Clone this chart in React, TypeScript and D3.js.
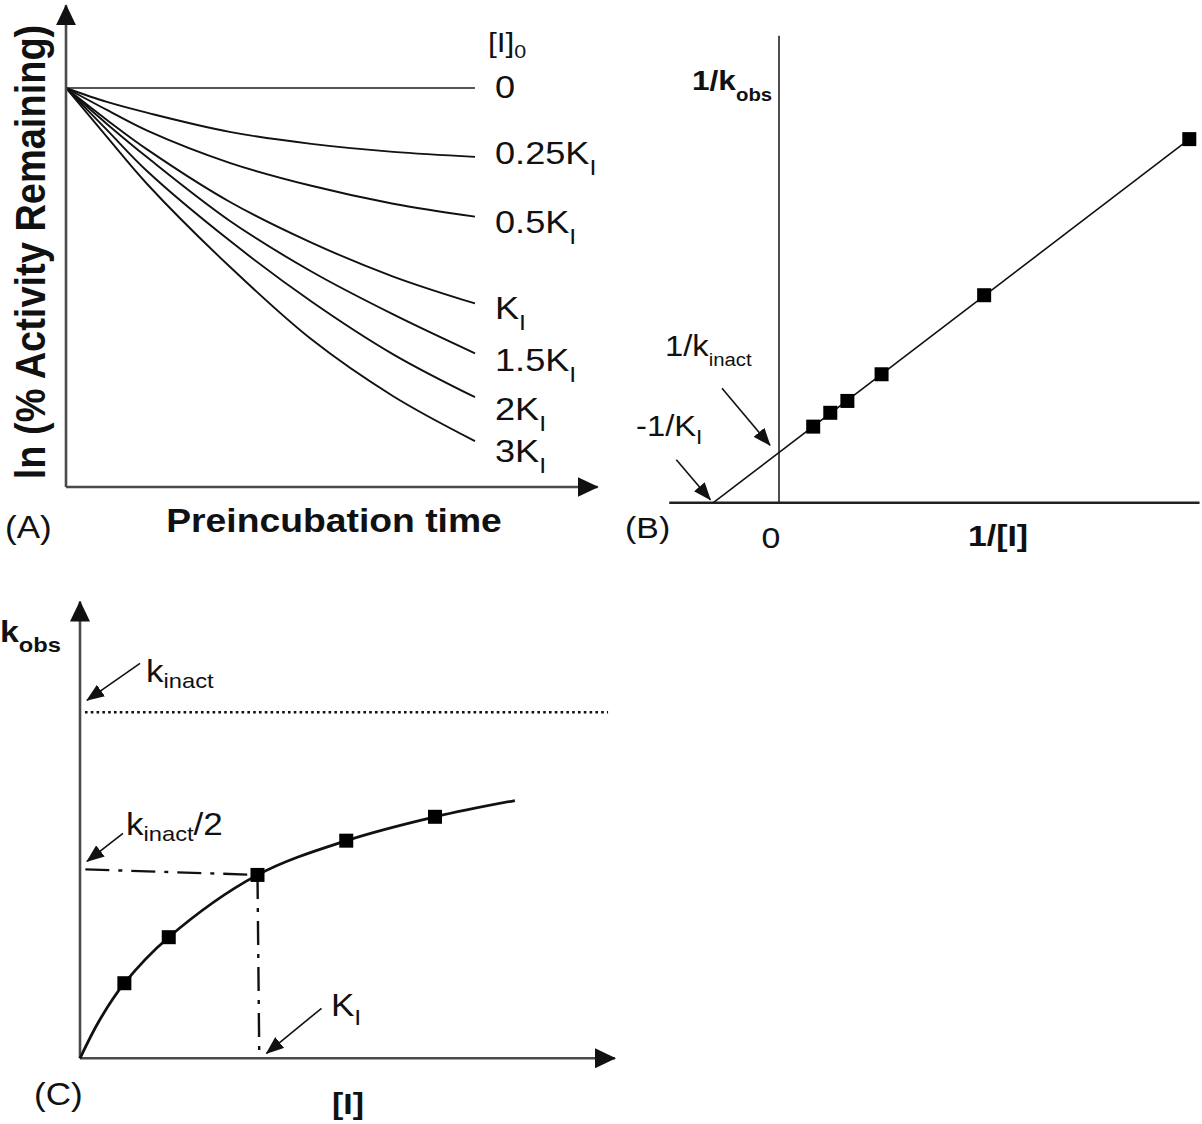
import React from 'react';
import * as d3 from 'd3';

// Panel A: ln(% activity remaining) vs preincubation time, one curve per [I]0
const timeA = [0, 1, 2, 4, 6, 8, 10];
const lnAct0 = [0, 0, 0, 0, 0, 0, 0];
const lnAct025 = [0, -0.14, -0.25, -0.44, -0.56, -0.64, -0.69];
const lnAct05 = [0, -0.22, -0.43, -0.75, -0.98, -1.16, -1.29];
const lnAct1 = [0, -0.32, -0.62, -1.14, -1.55, -1.89, -2.16];
const lnAct15 = [0, -0.36, -0.7, -1.33, -1.84, -2.27, -2.66];
const lnAct2 = [0, -0.42, -0.84, -1.53, -2.14, -2.67, -3.1];
const lnAct3 = [0, -0.49, -0.97, -1.79, -2.52, -3.09, -3.54];
const concLabelsA = ['0', '0.25', '0.5', '', '1.5', '2', '3'];

// Panel B: double reciprocal plot
const invConcB = [1 / 3, 0.5, 2 / 3, 1, 2, 4];
const invKobsB = [1.54, 1.82, 2.06, 2.6, 4.2, 7.36];
const fitB: [number, number][] = [[-0.64, 0], [4, 7.36]];

// Panel C: kobs vs [I] (in units of KI / kinact)
const concC = [0.25, 0.5, 1, 1.5, 2];
const kobsC = [0.217, 0.35, 0.53, 0.629, 0.698];
const curveC: [number, number][] = [[0, 0], [0.11, 0.11], [0.25, 0.217], [0.5, 0.35], [1, 0.53], [1.5, 0.629], [2, 0.698], [2.45, 0.745]];
const kinactC = 1;
const halfLineC: [number, number][] = [[0.03, 0.546], [1, 0.53]];
const kiDropC: [number, number][] = [[1, 0.53], [1.01, 0]];

const W = 1202;
const H = 1124;
const FONT = "'Liberation Sans', Arial, Helvetica, sans-serif";
const SX = 1.13; // the original artwork is a bit wide

const seriesA = [lnAct0, lnAct025, lnAct05, lnAct1, lnAct15, lnAct2, lnAct3];
const labelDyA = [10, 7, 16, 16, 18, 23, 21];

const xA = d3.scaleLinear().domain([0, 10]).range([66, 475]);
const yA = d3.scaleLinear().domain([-4, 0]).range([487, 88]);
const xB = d3.scaleLinear().domain([0, 4]).range([779, 1189.3]);
const yB = d3.scaleLinear().domain([0, 1]).range([502.7, 453.3]);
const xC = d3.scaleLinear().domain([0, 1]).range([80, 257.5]);
const yC = d3.scaleLinear().domain([0, 1]).range([1058.3, 712.3]);

const lineA = d3.line<number>()
  .x((d, i) => xA(timeA[i]))
  .y(d => yA(d))
  .curve(d3.curveCatmullRom.alpha(0.5));
const lineB = d3.line<[number, number]>().x(d => xB(d[0])).y(d => yB(d[1]));
const lineC = d3.line<[number, number]>().x(d => xC(d[0])).y(d => yC(d[1]));
const smoothC = d3.line<[number, number]>()
  .x(d => xC(d[0]))
  .y(d => yC(d[1]))
  .curve(d3.curveCatmullRom.alpha(0.5));

type Part = { t: string; sub?: boolean };

const Label = ({ x, y, parts, size, subSize, subDy, bold, anchor, rotate }: {
  x: number; y: number; parts: Part[]; size: number; subSize?: number; subDy?: number;
  bold?: boolean; anchor?: string; rotate?: number;
}) => {
  let shifted = false;
  return (
    <text
      transform={`translate(${x},${y}) scale(${SX},1)${rotate ? ` rotate(${rotate})` : ''}`}
      fontSize={size}
      fontWeight={bold ? 'bold' : 'normal'}
      textAnchor={anchor || 'start'}
      fill="#111"
    >
      {parts.map((p, i) => {
        let dy = 0;
        if (p.sub && !shifted) { dy = subDy || 8; shifted = true; }
        else if (!p.sub && shifted) { dy = -(subDy || 8); shifted = false; }
        return (
          <tspan key={i} dy={dy} fontSize={p.sub ? subSize || size * 0.65 : size}>{p.t}</tspan>
        );
      })}
    </text>
  );
};

const Arrow = ({ ax, ay, tail, tip }: { ax: number; ay: number; tail: [number, number]; tip: [number, number] }) => (
  <line
    x1={ax + tail[0]} y1={ay + tail[1]} x2={ax + tip[0]} y2={ay + tip[1]}
    stroke="#111" strokeWidth={1.6} markerEnd="url(#headSmall)"
  />
);

export default function App() {
  const axisGray = '#4a4a4a';
  return (
    <svg width={W} height={H} style={{ position: 'absolute', left: 0, top: 0, background: '#fff' }} fontFamily={FONT}>
      <defs>
        <marker id="headSmall" viewBox="0 0 18 14" markerWidth={18} markerHeight={14} refX={17} refY={7}
          orient="auto" markerUnits="userSpaceOnUse">
          <path d="M0,0 L18,7 L0,14 z" fill="#111" />
        </marker>
        <marker id="headAxis" viewBox="0 0 21 20" markerWidth={21} markerHeight={20} refX={20} refY={10}
          orient="auto" markerUnits="userSpaceOnUse">
          <path d="M0,0 L21,10 L0,20 z" fill="#111" />
        </marker>
      </defs>

      {/* ---------- Panel A ---------- */}
      <g>
        {seriesA.map((s, i) => (
          <path key={i} d={lineA(s) || ''} fill="none"
            stroke={i === 0 ? '#555' : '#111'} strokeWidth={i === 0 ? 2.2 : 1.9} />
        ))}
        <line x1={xA(0)} y1={yA(-4)} x2={xA(0)} y2={yA(0.83)} stroke={axisGray} strokeWidth={2.6} markerEnd="url(#headAxis)" />
        <line x1={xA(0)} y1={yA(-4)} x2={xA(13)} y2={yA(-4)} stroke={axisGray} strokeWidth={2.6} markerEnd="url(#headAxis)" />
        <Label x={488} y={52} size={28} subSize={19} subDy={6} parts={[{ t: '[I]' }, { t: '0', sub: true }]} />
        {seriesA.map((s, i) => (
          <Label key={i} x={495} y={yA(s[s.length - 1]) + labelDyA[i]} size={32} subSize={22} subDy={11}
            parts={i === 0 ? [{ t: '0' }] : [{ t: concLabelsA[i] + 'K' }, { t: 'I', sub: true }]} />
        ))}
        <Label x={45} y={252} size={38} bold anchor="middle" rotate={-90}
          parts={[{ t: 'ln (% Activity Remaining)' }]} />
        <Label x={334} y={532} size={33} bold anchor="middle" parts={[{ t: 'Preincubation time' }]} />
        <Label x={5} y={538} size={31} parts={[{ t: '(A)' }]} />
      </g>

      {/* ---------- Panel B ---------- */}
      <g>
        <line x1={xB(-1.07)} y1={yB(0)} x2={xB(4.1)} y2={yB(0)} stroke="#222" strokeWidth={2.4} />
        <line x1={xB(0)} y1={yB(0)} x2={xB(0)} y2={yB(9.45)} stroke="#222" strokeWidth={1.6} />
        <path d={lineB(fitB) || ''} fill="none" stroke="#111" strokeWidth={1.6} />
        {invConcB.map((x, i) => (
          <rect key={i} x={xB(x) - 7} y={yB(invKobsB[i]) - 7} width={14} height={14} fill="#000" />
        ))}
        <Arrow ax={xB(0)} ay={yB(1)} tail={[-57, -65]} tip={[-9, -8]} />
        <Arrow ax={xB(fitB[0][0])} ay={yB(0)} tail={[-37, -43]} tip={[-3, -3]} />
        <Label x={692} y={90} size={28} subSize={18} subDy={11} bold parts={[{ t: '1/k' }, { t: 'obs', sub: true }]} />
        <Label x={665} y={356} size={29} subSize={18} subDy={10} parts={[{ t: '1/k' }, { t: 'inact', sub: true }]} />
        <Label x={636} y={436} size={29} subSize={20} subDy={8} parts={[{ t: '-1/K' }, { t: 'I', sub: true }]} />
        <Label x={625} y={538} size={30} parts={[{ t: '(B)' }]} />
        <Label x={xB(0) - 8} y={548} size={30} anchor="middle" parts={[{ t: '0' }]} />
        <Label x={998} y={546} size={30} bold anchor="middle" parts={[{ t: '1/[I]' }]} />
      </g>

      {/* ---------- Panel C ---------- */}
      <g>
        <line x1={xC(0)} y1={yC(0)} x2={xC(0)} y2={yC(1.32)} stroke={axisGray} strokeWidth={2.6} markerEnd="url(#headAxis)" />
        <line x1={xC(0)} y1={yC(0)} x2={xC(3.014)} y2={yC(0)} stroke={axisGray} strokeWidth={2.6} markerEnd="url(#headAxis)" />
        <line x1={xC(0.028)} y1={yC(kinactC)} x2={xC(2.975)} y2={yC(kinactC)} stroke="#111"
          strokeWidth={2.6} strokeDasharray="2.6 3.2" />
        <path d={lineC(halfLineC) || ''} fill="none" stroke="#111" strokeWidth={2.4} strokeDasharray="24 9 4 9" />
        <path d={lineC(kiDropC) || ''} fill="none" stroke="#111" strokeWidth={2.4} strokeDasharray="24 9 4 9" />
        <path d={smoothC(curveC) || ''} fill="none" stroke="#111" strokeWidth={2.8} />
        {concC.map((x, i) => (
          <rect key={i} x={xC(x) - 7} y={yC(kobsC[i]) - 7} width={14} height={14} fill="#000" />
        ))}
        <Arrow ax={xC(0)} ay={yC(kinactC)} tail={[60, -49]} tip={[7, -12]} />
        <Arrow ax={xC(0)} ay={yC(halfLineC[0][1])} tail={[43, -36]} tip={[7, -8]} />
        <Arrow ax={xC(1)} ay={yC(0)} tail={[64, -50]} tip={[9, -5]} />
        <Label x={0} y={642} size={30} subSize={21} subDy={10} bold parts={[{ t: 'k' }, { t: 'obs', sub: true }]} />
        <Label x={146} y={682} size={31} subSize={21} subDy={6} parts={[{ t: 'k' }, { t: 'inact', sub: true }]} />
        <Label x={126} y={835} size={31} subSize={21} subDy={6}
          parts={[{ t: 'k' }, { t: 'inact', sub: true }, { t: '/2' }]} />
        <Label x={331} y={1016} size={31} subSize={22} subDy={9} parts={[{ t: 'K' }, { t: 'I', sub: true }]} />
        <Label x={34} y={1105} size={31} parts={[{ t: '(C)' }]} />
        <Label x={348} y={1114} size={30} bold anchor="middle" parts={[{ t: '[I]' }]} />
      </g>
    </svg>
  );
}
